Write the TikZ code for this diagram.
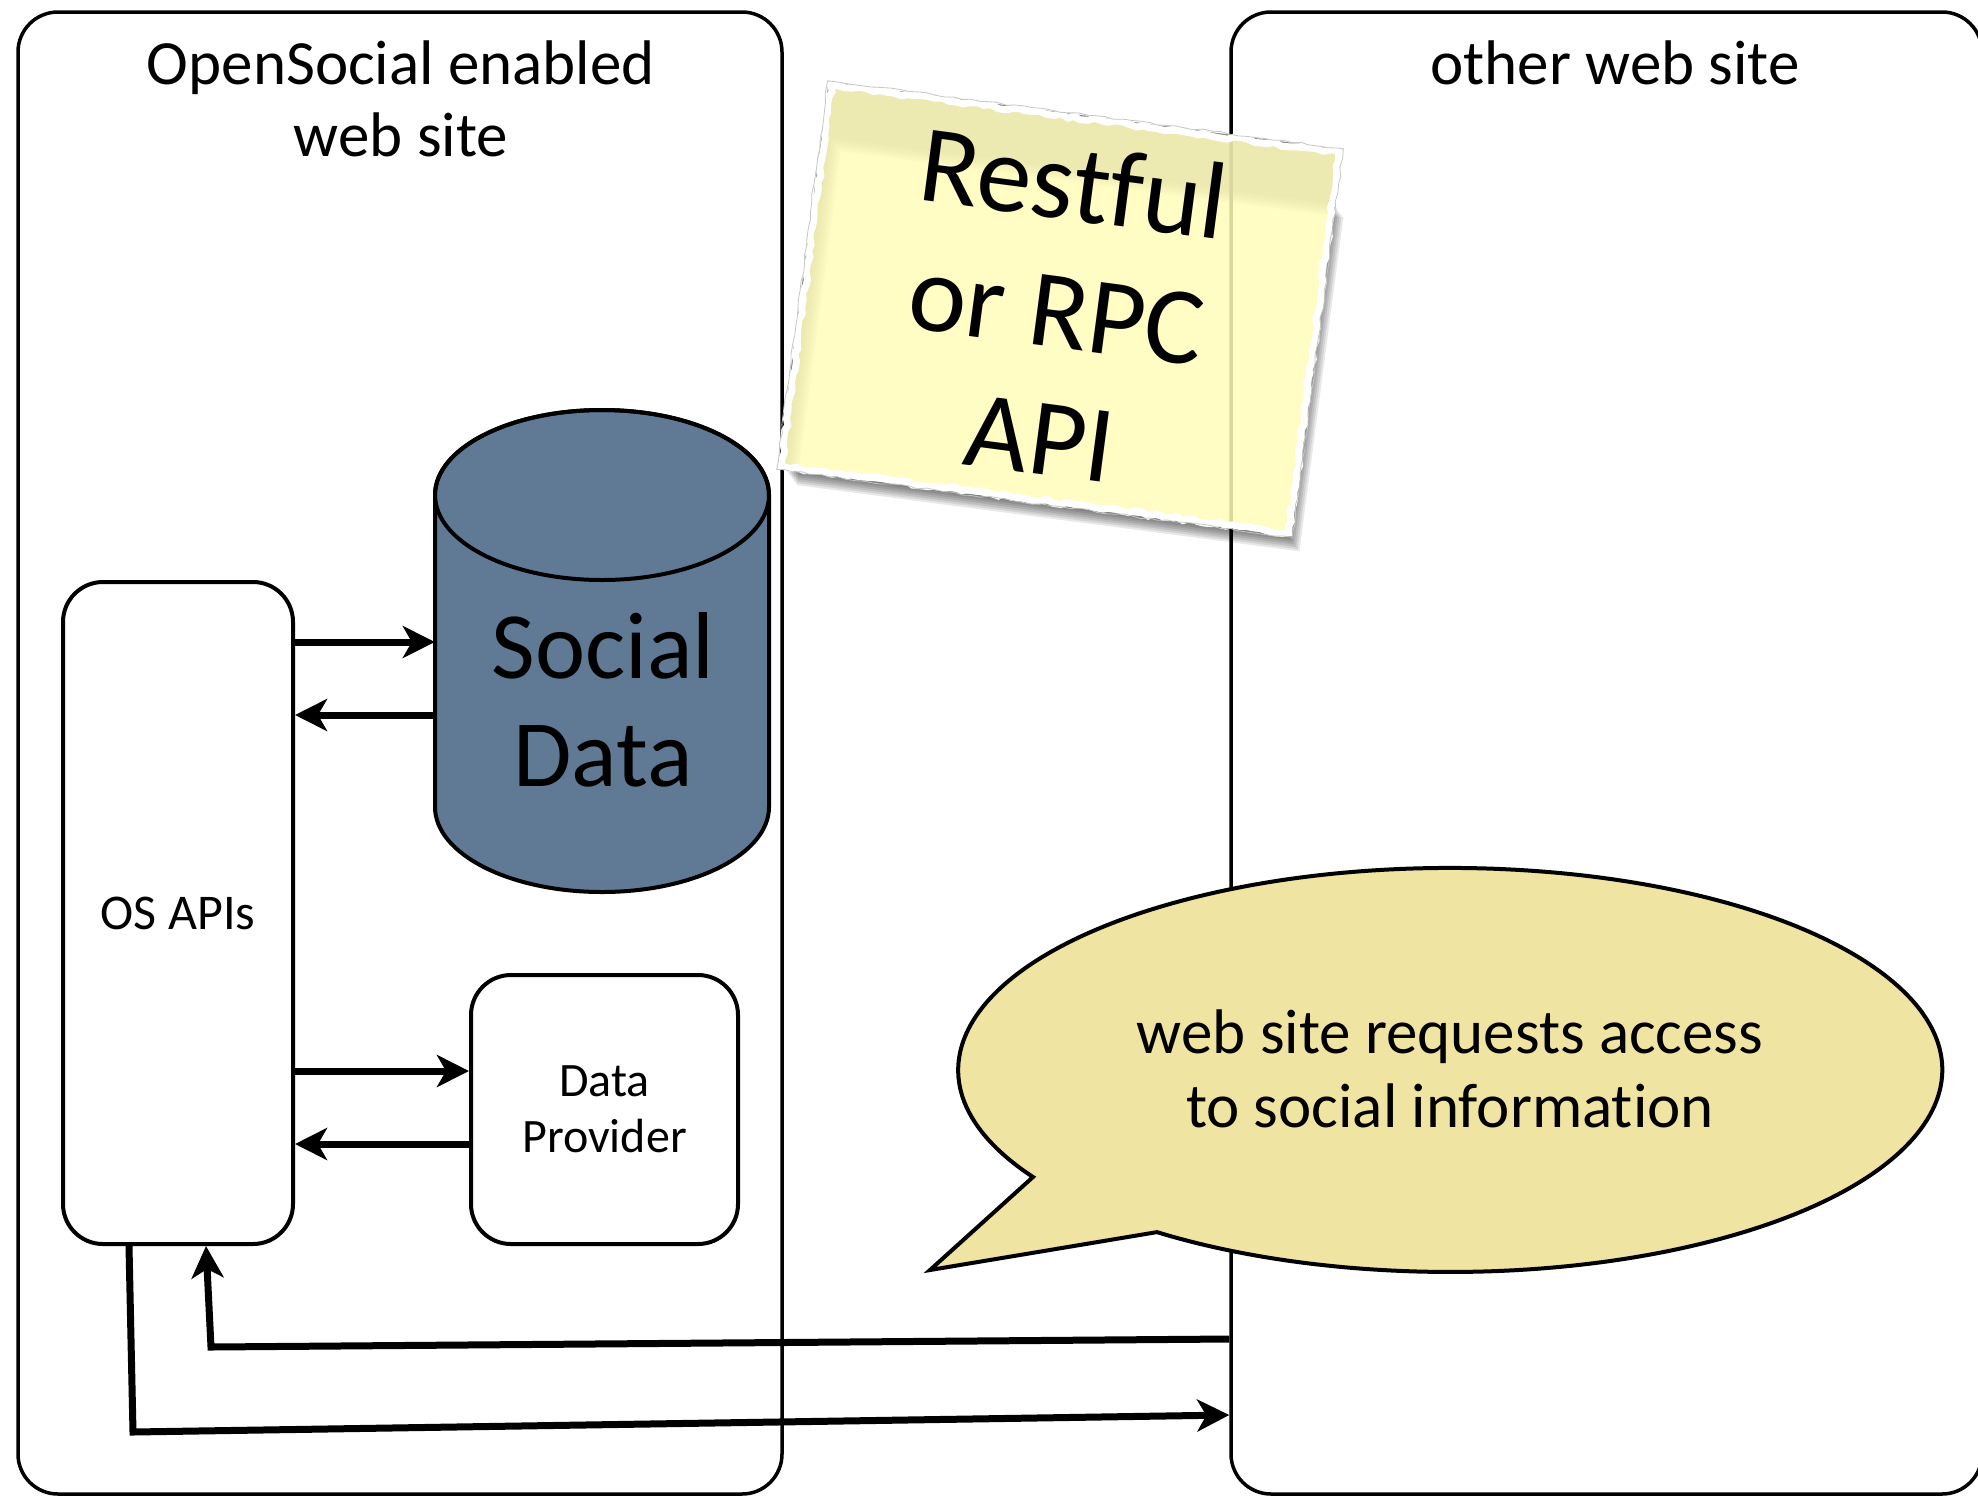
\documentclass[tikz,border=0pt]{standalone}
\usepackage{fontspec}
\setmainfont{Carlito}[Ligatures=NoCommon]
\usetikzlibrary{arrows.meta,decorations.pathmorphing}
\definecolor{cylfill}{RGB}{96,122,150}
\definecolor{bubfill}{RGB}{240,228,162}
\definecolor{noteyel}{RGB}{255,252,186}
\tikzset{
  sitebox/.style={draw, line width=3.5pt, rounded corners=40pt, inner sep=0pt},
  innerbox/.style={draw, fill=white, line width=4pt, rounded corners=40pt, align=center, inner sep=0pt},
  arr/.style={line width=7pt, -{Stealth[length=32pt, width=32pt, inset=9pt]}},
  titletxt/.style={align=center, inner sep=0pt, font=\fontsize{63}{72}\selectfont},
}
\begin{document}
\begin{tikzpicture}[x=1pt,y=-1pt]
\useasboundingbox (0,0) rectangle (1978,1497);
\fill[white] (0,0) rectangle (1978,1497);

% site boxes
\node[sitebox, minimum width=764pt, minimum height=1482pt] (left) at (400,753) {};
\node[sitebox, minimum width=751pt, minimum height=1482pt] (right) at (1606.5,753) {};
\node[titletxt] (lefttitle) at (401,99) {OpenSocial enabled\\web site};
\node[titletxt, anchor=base] (righttitle) at (1615,84) {other web site};

% cylinder
\node[minimum width=334pt, minimum height=482pt, inner sep=0pt] (sd) at (602,651) {};
\draw[line width=4pt, fill=cylfill] (435,495) -- (435,807)
   arc[start angle=180, end angle=0, x radius=167, y radius=85]
   -- (769,495)
   arc[start angle=0, end angle=-180, x radius=167, y radius=85] -- cycle;
\draw[line width=4pt] (602,495) ellipse [x radius=167, y radius=85];
\node[align=center, inner sep=0pt, font=\fontsize{95}{108}\selectfont] (sdlabel) at (603,700) {Social\\Data};

% inner boxes
\node[innerbox, minimum width=230pt, minimum height=662pt, font=\fontsize{50}{58}\selectfont] (os) at (178,913) {OS APIs};
\node[innerbox, minimum width=267pt, minimum height=269pt, font=\fontsize{48}{56}\selectfont] (dp) at (604.5,1109.5) {Data\\Provider};

% arrows
\draw[arr] (os.east |- 0,642) -- (sd.west |- 0,642);
\draw[arr] (sd.west |- 0,715) -- (os.east |- 0,715);
\draw[arr] (os.east |- 0,1071) -- (dp.west |- 0,1071);
\draw[arr] (dp.west |- 0,1144) -- (os.east |- 0,1144);
\coordinate (c1) at (211,1347);
\coordinate (c2) at (133,1432);
\draw[arr] (right.west |- 0,1339) -- (c1) -- (os.south -| 206,0);
\draw[arr] (os.south -| 129,0) -- (c2) -- (right.west |- 0,1415);

% speech bubble
\draw[line width=4pt, fill=bubfill] (1033,1177)
   arc[start angle=148, end angle=486.6, x radius=492, y radius=202]
   -- (930,1270) -- cycle;
\node[titletxt, font=\fontsize{63}{74}\selectfont] (req) at (1450,1069) {web site requests access\\to social information};

% sticky note
\begin{scope}[shift={(1060,309)}, rotate=-7.5]
  \foreach \k in {0,2,4,6,8,10,12}{
    \fill[black, opacity=0.09, even odd rule]
      (-250+\k,-140+\k) rectangle (257+\k,197+\k)
      (-259,-195) rectangle (259,195);
  }
  \pgfmathsetseed{7}
  \path[decorate, decoration={random steps, segment length=7pt, amplitude=1.8pt},
        fill=noteyel, fill opacity=0.85, draw=white, line width=7pt]
     (-256,-192) -- (256,-192) -- (256,192) -- (-256,192) -- cycle;
  \pgfmathsetseed{11}
  \draw[decorate, decoration={random steps, segment length=9pt, amplitude=1.2pt},
        gray!45, line width=0.8pt]
     (-260,-196) -- (260,-196) -- (260,196) -- (-260,196) -- cycle;
\end{scope}
\node[align=center, inner sep=0pt, rotate=-7.5, font=\fontsize{110}{128}\selectfont] (api) at (1057,309) {Restful\\or RPC\\API};
\end{tikzpicture}
\end{document}
